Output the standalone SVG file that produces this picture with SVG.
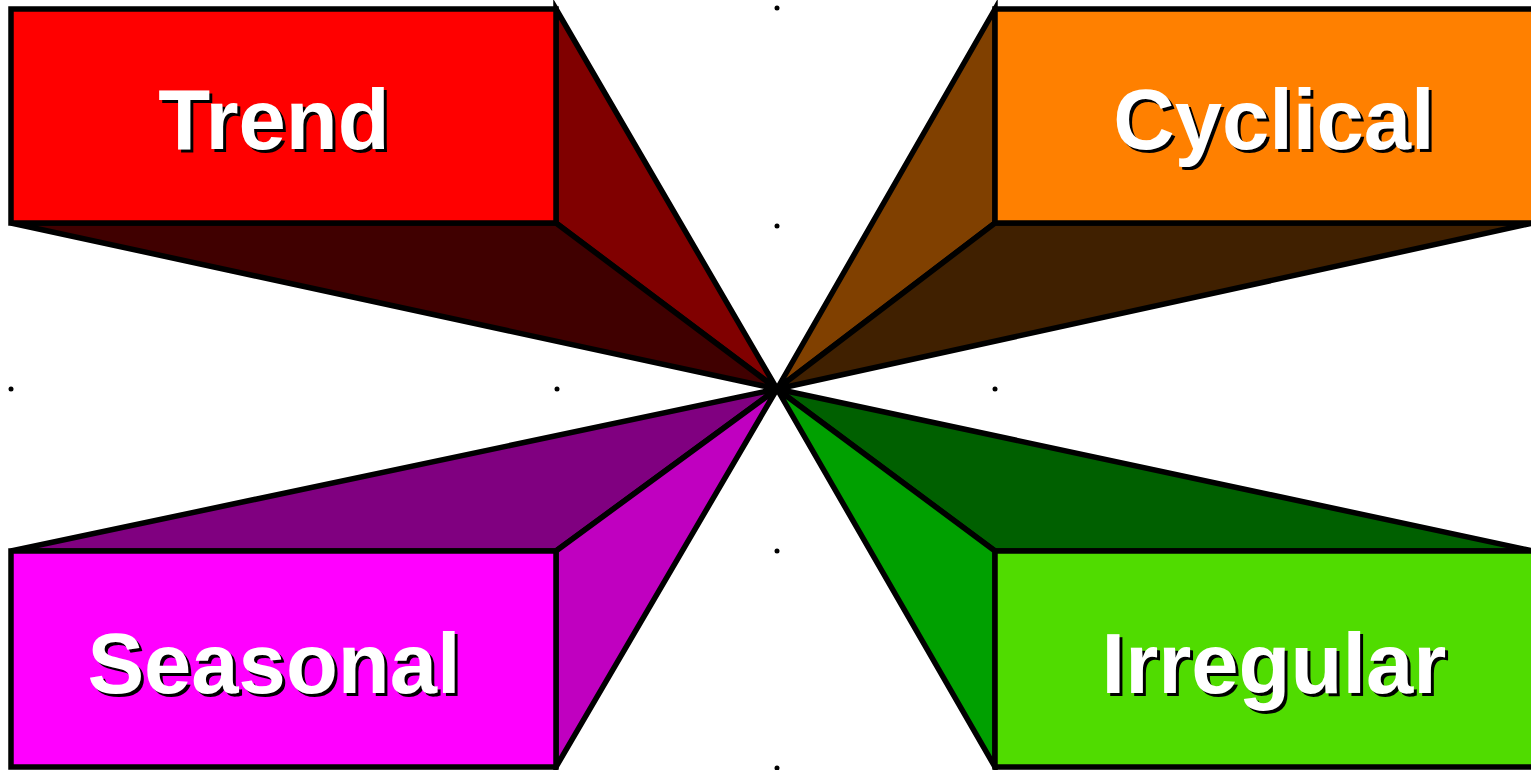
<svg xmlns="http://www.w3.org/2000/svg" width="1531" height="770" viewBox="0 0 1531 770">
<style>
.f{stroke:#000;stroke-width:5.5;stroke-linejoin:miter}
.t{font-family:"Liberation Sans",Arial,sans-serif;font-weight:bold;font-size:85px;text-anchor:middle}
.w{fill:#fff}
.s{fill:#000}
.d{fill:#000}
</style>
<rect width="1531" height="770" fill="#fff"/>
<g id="dots">
<circle class="d" cx="777" cy="8" r="2.5"/>
<circle class="d" cx="777" cy="226" r="2.5"/>
<circle class="d" cx="11" cy="389" r="2.5"/>
<circle class="d" cx="557" cy="389" r="2.5"/>
<circle class="d" cx="995" cy="389" r="2.5"/>
<circle class="d" cx="777" cy="551" r="2.5"/>
<circle class="d" cx="777" cy="768" r="2.5"/>
</g>
<g id="trend">
<polygon class="f" fill="#800000" points="556,9 777,389 556,223"/>
<polygon class="f" fill="#400000" points="11,223 556,223 777,389"/>
<rect class="f" fill="#ff0000" x="11" y="9" width="545" height="214"/>
<text class="t s" x="277" y="152">Trend</text>
<text class="t w" x="274" y="149">Trend</text>
</g>
<g id="cyclical">
<polygon class="f" fill="#804000" points="995,9 777,389 995,223"/>
<polygon class="f" fill="#402000" points="995,223 1533,223 777,389"/>
<rect class="f" fill="#ff8000" x="995" y="9" width="545" height="214"/>
<text class="t s" x="1277" y="152">Cyclical</text>
<text class="t w" x="1274" y="149">Cyclical</text>
</g>
<g id="seasonal">
<polygon class="f" fill="#800080" points="11,551 556,551 777,389"/>
<polygon class="f" fill="#c000c0" points="556,551 777,389 556,767"/>
<rect class="f" fill="#ff00ff" x="11" y="551" width="545" height="216"/>
<text class="t s" x="277" y="696">Seasonal</text>
<text class="t w" x="274" y="693">Seasonal</text>
</g>
<g id="irregular">
<polygon class="f" fill="#006000" points="995,551 1533,551 777,389"/>
<polygon class="f" fill="#00a000" points="995,551 777,389 995,767"/>
<rect class="f" fill="#50dc00" x="995" y="551" width="545" height="216"/>
<text class="t s" x="1277" y="696">Irregular</text>
<text class="t w" x="1274" y="693">Irregular</text>
</g>
</svg>
